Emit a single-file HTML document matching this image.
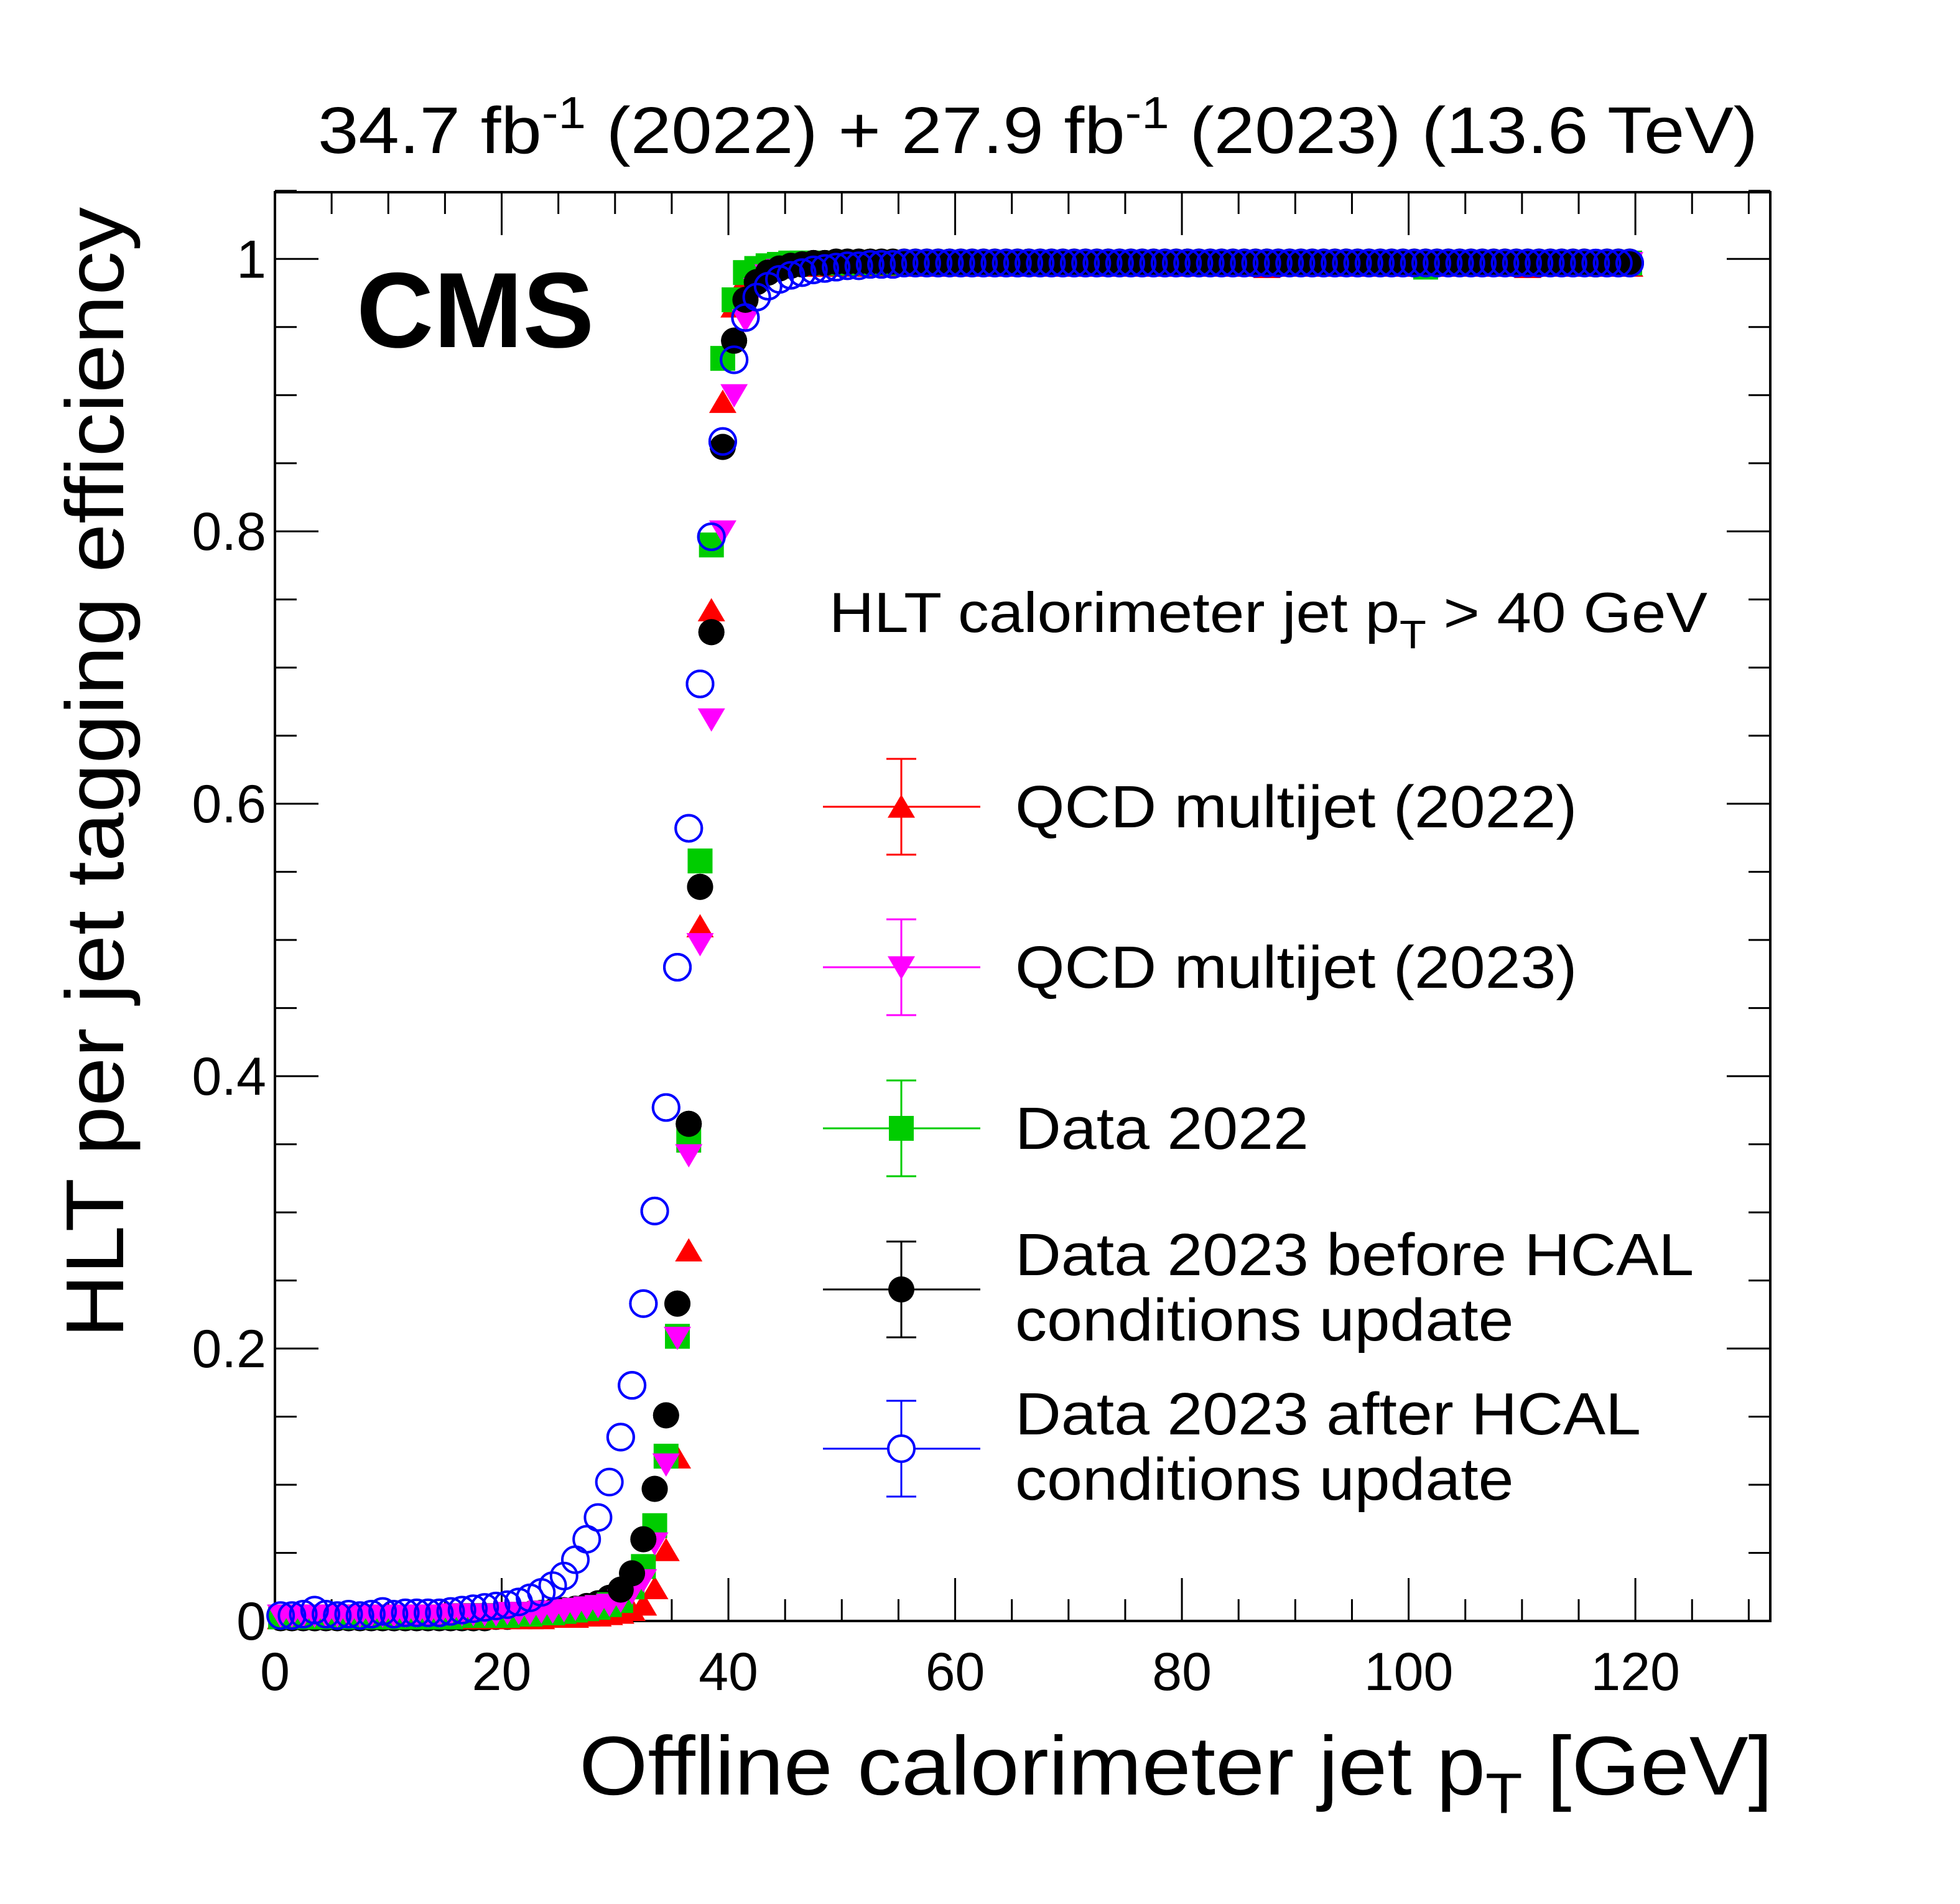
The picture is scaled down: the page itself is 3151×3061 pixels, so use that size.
<!DOCTYPE html>
<html><head><meta charset="utf-8"><style>
html,body{margin:0;padding:0;background:#fff;}
svg{display:block;font-family:"Liberation Sans",Arial,sans-serif;}
</style></head><body>
<svg id="chart" width="3151" height="3061" viewBox="0 0 3151 3061" xmlns="http://www.w3.org/2000/svg">
<rect x="0" y="0" width="3151" height="3061" fill="#fff"/>
<g id="axes"></g>
<g id="marks"></g>
<text id="lumi" x="2826" y="246" font-size="106" text-anchor="end">34.7 fb<tspan dy="-40" font-size="72">-1</tspan><tspan dy="40"> (2022) + 27.9 fb</tspan><tspan dy="-40" font-size="72">-1</tspan><tspan dy="40"> (2023) (13.6 TeV)</tspan></text>
<text x="573" y="558" font-size="172" font-weight="bold">CMS</text>
<text id="ytitle" transform="translate(198,333) rotate(-90)" font-size="132" text-anchor="end">HLT per jet tagging efficiency</text>
<text id="xtitle" x="2850" y="2885" font-size="134" text-anchor="end">Offline calorimeter jet p<tspan dy="30" font-size="92">T</tspan><tspan dy="-30"> [GeV]</tspan></text>
<g id="legend">
<text id="leghead" x="1333" y="1016" font-size="91">HLT calorimeter jet p<tspan dy="26" font-size="64">T</tspan><tspan dy="-26"> &gt; 40 GeV</tspan></text>
</g>
</svg>
<script>
const xTicks = [0, 20, 40, 60, 80, 100, 120];
const yTicks = [0, 0.2, 0.4, 0.6, 0.8, 1];
const yTickLabels = ["0", "0.2", "0.4", "0.6", "0.8", "1"];
const ptCenters = [];
for (let n = 0; n < 120; n++) ptCenters.push(n + 0.5);
const effQCD2022 = [0.002,0.002,0.002,0.002,0.002,0.002,0.002,0.002,0.002,0.002,0.002,0.002,0.002,0.002,0.002,0.002,0.002,0.002,0.002,0.002,0.002,0.002,0.002,0.002,0.003,0.003,0.003,0.004,0.004,0.005,0.006,0.008,0.012,0.024,0.052,0.120,0.272,0.510,0.742,0.895,0.965,0.985,0.991,0.993,0.994,0.995,0.995,0.995,0.995,0.995,0.995,0.995,0.995,0.995,0.995,0.995,0.995,0.995,0.995,0.995,0.995,0.995,0.995,0.995,0.995,0.995,0.995,0.995,0.995,0.995,0.995,0.995,0.995,0.995,0.995,0.995,0.995,0.995,0.995,0.995,0.995,0.995,0.995,0.995,0.995,0.995,0.995,0.994,0.995,0.995,0.995,0.995,0.995,0.995,0.995,0.995,0.995,0.995,0.995,0.995,0.995,0.995,0.995,0.995,0.995,0.995,0.995,0.995,0.995,0.995,0.994,0.995,0.995,0.995,0.995,0.995,0.995,0.995,0.995,0.995];
const effQCD2023 = [0.004,0.004,0.004,0.004,0.004,0.004,0.004,0.004,0.004,0.004,0.004,0.004,0.004,0.004,0.004,0.005,0.005,0.005,0.005,0.005,0.006,0.006,0.006,0.007,0.007,0.008,0.009,0.010,0.011,0.012,0.015,0.021,0.030,0.057,0.115,0.208,0.342,0.497,0.662,0.800,0.900,0.955,0.978,0.988,0.992,0.994,0.995,0.996,0.996,0.997,0.997,0.997,0.997,0.997,0.997,0.997,0.997,0.997,0.997,0.997,0.997,0.997,0.997,0.997,0.997,0.997,0.997,0.997,0.997,0.997,0.997,0.997,0.997,0.997,0.997,0.997,0.997,0.997,0.997,0.997,0.997,0.997,0.997,0.997,0.997,0.997,0.997,0.997,0.997,0.997,0.997,0.997,0.997,0.997,0.997,0.997,0.997,0.997,0.997,0.997,0.997,0.997,0.997,0.997,0.997,0.997,0.997,0.997,0.997,0.997,0.997,0.997,0.997,0.997,0.997,0.997,0.997,0.997,0.997,0.997];
const effData2022 = [0.003,0.003,0.003,0.003,0.003,0.003,0.003,0.003,0.003,0.003,0.003,0.003,0.003,0.003,0.003,0.003,0.004,0.004,0.004,0.004,0.004,0.005,0.005,0.006,0.006,0.007,0.008,0.009,0.010,0.012,0.015,0.025,0.040,0.070,0.121,0.209,0.353,0.558,0.790,0.927,0.970,0.990,0.993,0.995,0.996,0.997,0.997,0.997,0.997,0.997,0.997,0.997,0.997,0.997,0.997,0.997,0.997,0.997,0.997,0.997,0.997,0.997,0.997,0.997,0.997,0.997,0.997,0.997,0.997,0.997,0.997,0.997,0.997,0.997,0.997,0.997,0.997,0.997,0.997,0.997,0.997,0.997,0.997,0.997,0.997,0.997,0.997,0.997,0.997,0.997,0.997,0.997,0.997,0.997,0.997,0.997,0.997,0.997,0.997,0.997,0.997,0.994,0.997,0.997,0.997,0.997,0.997,0.997,0.997,0.997,0.997,0.997,0.997,0.997,0.997,0.997,0.997,0.997,0.997,0.997];
const effData2023Before = [0.002,0.002,0.002,0.002,0.002,0.002,0.002,0.002,0.002,0.002,0.002,0.002,0.002,0.002,0.002,0.002,0.002,0.002,0.002,0.003,0.003,0.004,0.005,0.006,0.007,0.008,0.009,0.011,0.013,0.017,0.023,0.035,0.060,0.097,0.151,0.233,0.365,0.539,0.726,0.862,0.940,0.970,0.983,0.990,0.993,0.995,0.996,0.997,0.997,0.998,0.998,0.998,0.998,0.998,0.998,0.998,0.998,0.998,0.998,0.998,0.998,0.998,0.998,0.998,0.998,0.998,0.998,0.998,0.998,0.998,0.998,0.998,0.998,0.998,0.998,0.998,0.998,0.998,0.998,0.998,0.998,0.998,0.998,0.998,0.998,0.998,0.998,0.998,0.998,0.998,0.998,0.998,0.998,0.998,0.998,0.998,0.998,0.998,0.998,0.998,0.998,0.998,0.998,0.998,0.998,0.998,0.998,0.998,0.998,0.998,0.998,0.998,0.998,0.998,0.998,0.998,0.996,0.998,0.998,0.998];
const effData2023After = [0.004,0.004,0.005,0.008,0.005,0.004,0.005,0.004,0.005,0.007,0.005,0.006,0.006,0.006,0.006,0.007,0.008,0.009,0.010,0.011,0.012,0.014,0.017,0.021,0.026,0.033,0.045,0.060,0.076,0.102,0.135,0.173,0.233,0.301,0.377,0.480,0.582,0.688,0.796,0.866,0.926,0.957,0.972,0.980,0.985,0.988,0.990,0.992,0.993,0.994,0.995,0.995,0.996,0.996,0.996,0.997,0.997,0.997,0.997,0.997,0.997,0.997,0.997,0.997,0.997,0.997,0.997,0.997,0.997,0.997,0.997,0.997,0.997,0.997,0.997,0.997,0.997,0.997,0.997,0.997,0.997,0.997,0.997,0.997,0.997,0.997,0.997,0.997,0.997,0.997,0.997,0.997,0.997,0.997,0.997,0.997,0.997,0.997,0.997,0.997,0.997,0.997,0.997,0.997,0.997,0.997,0.997,0.997,0.997,0.997,0.997,0.997,0.997,0.997,0.997,0.997,0.997,0.997,0.997,0.997];
const legendLabels = [["QCD multijet (2022)"],["QCD multijet (2023)"],["Data 2022"],["Data 2023 before HCAL","conditions update"],["Data 2023 after HCAL","conditions update"]];

const NS = "http://www.w3.org/2000/svg";
const L = 442, R = 2846, T = 309, B = 2606;
const X_MIN = 0, X_MAX = 131.9, Y_MIN = 0, Y_MAX = 1.049;
function xs(v){ return L + (v - X_MIN) / (X_MAX - X_MIN) * (R - L); }
function ys(v){ return B - (v - Y_MIN) / (Y_MAX - Y_MIN) * (B - T); }
function mk(tag, attrs, parent){ const e = document.createElementNS(NS, tag); for (const k in attrs) e.setAttribute(k, attrs[k]); parent.appendChild(e); return e; }
function stretch(el, len){ el.setAttribute('textLength', len); el.setAttribute('lengthAdjust', 'spacingAndGlyphs'); }

const axes = document.getElementById('axes');
const frame = mk('rect', {x:L, y:T, width:R-L, height:B-T, fill:'none', stroke:'#000', 'stroke-width':4}, axes);


for (let v = 0; v <= 130; v += 5) {
  const major = v % 20 === 0; const len = major ? 69 : 35; const x = xs(v);
  const t1 = mk('line', {x1:x, y1:B, x2:x, y2:B-len, stroke:'#000', 'stroke-width':3}, axes);
  
  
  const t2 = mk('line', {x1:x, y1:T, x2:x, y2:T+len, stroke:'#000', 'stroke-width':3}, axes);
  
  
}
xTicks.forEach(v => {
  const t = mk('text', {x:xs(v), y:2717, 'font-size':86, 'text-anchor':'middle'}, axes);
  t.textContent = v;
  
  
});
for (let i = 0; i <= 21; i++) {
  const v = i * 0.05; const major = i % 4 === 0; const len = major ? 70 : 35; const y = ys(v);
  const t1 = mk('line', {x1:L, y1:y, x2:L+len, y2:y, stroke:'#000', 'stroke-width':3}, axes);
  
  
  const t2 = mk('line', {x1:R, y1:y, x2:R-len, y2:y, stroke:'#000', 'stroke-width':3}, axes);
  
  
}
yTicks.forEach((v, i) => {
  const t = mk('text', {x:428, y:ys(v)+30, 'font-size':86, 'text-anchor':'end'}, axes);
  t.textContent = yTickLabels[i];
  
  
});

function marker(type, cx, cy, color, parent){
  const s = 22; let e;
  if (type === 'up') e = mk('polygon', {points:`${cx-s},${cy+s*0.8} ${cx+s},${cy+s*0.8} ${cx},${cy-s*0.9}`, fill:color}, parent);
  else if (type === 'down') e = mk('polygon', {points:`${cx-s},${cy-s*0.8} ${cx+s},${cy-s*0.8} ${cx},${cy+s*0.9}`, fill:color}, parent);
  else if (type === 'square') e = mk('rect', {x:cx-20, y:cy-20, width:40, height:40, fill:color}, parent);
  else if (type === 'circle') e = mk('circle', {cx:cx, cy:cy, r:21, fill:color}, parent);
  else e = mk('circle', {cx:cx, cy:cy, r:21, fill:'none', stroke:color, 'stroke-width':4}, parent);
  return e;
}
const series = [
  {name:'data-2023-before', vals:effData2023Before, type:'circle', color:'#000000'},
  {name:'qcd-2022', vals:effQCD2022, type:'up', color:'#ff0000'},
  {name:'data-2022', vals:effData2022, type:'square', color:'#00cc00'},
  {name:'qcd-2023', vals:effQCD2023, type:'down', color:'#ff00ff'},
  {name:'data-2023-after', vals:effData2023After, type:'open', color:'#0000ff'}
];
const marks = document.getElementById('marks');
series.forEach(s => {
  const g = mk('g', {}, marks);
  
  
  s.vals.forEach((v, i) => {
    const m = marker(s.type, xs(ptCenters[i]), ys(v), s.color, g);
    
    
  });
});
// redraw black over others in the rise region (ptCenters >= 30)
const gTop = mk('g', {}, marks);


effData2023Before.forEach((v, i) => {
  if (ptCenters[i] >= 30) {
    const m = marker('circle', xs(ptCenters[i]), ys(v), '#000000', gTop);
    
    
  }
});
const gBlue = mk('g', {}, marks);


effData2023After.forEach((v, i) => {
  if (ptCenters[i] >= 30) {
    const m = marker('open', xs(ptCenters[i]), ys(v), '#0000ff', gBlue);
    
    
  }
});

const legend = document.getElementById('legend');
const legOrder = [
  {type:'up', color:'#ff0000', cy:1297},
  {type:'down', color:'#ff00ff', cy:1555},
  {type:'square', color:'#00cc00', cy:1814},
  {type:'circle', color:'#000000', cy:2073},
  {type:'open', color:'#0000ff', cy:2329}
];
legOrder.forEach((o, i) => {
  const g = mk('g', {}, legend);
  
  
  mk('line', {x1:1323, y1:o.cy, x2:1576, y2:o.cy, stroke:o.color, 'stroke-width':3}, g);
  mk('line', {x1:1449, y1:o.cy-77, x2:1449, y2:o.cy+77, stroke:o.color, 'stroke-width':3}, g);
  mk('line', {x1:1425, y1:o.cy-77, x2:1473, y2:o.cy-77, stroke:o.color, 'stroke-width':3}, g);
  mk('line', {x1:1425, y1:o.cy+77, x2:1473, y2:o.cy+77, stroke:o.color, 'stroke-width':3}, g);
  if (o.type === 'open') mk('circle', {cx:1449, cy:o.cy, r:21, fill:'#fff', stroke:o.color, 'stroke-width':4}, g);
  else marker(o.type, 1449, o.cy, o.color, g);
  const lines = legendLabels[i];
  lines.forEach((txt, j) => {
    const y = lines.length === 1 ? o.cy + 33 : o.cy - 23 + j * 105;
    const t = mk('text', {x:1632, y:y, 'font-size':96}, g);
    t.textContent = txt;
    
    
    stretch(t, t.getComputedTextLength() * 1.065);
  });
});
stretch(document.getElementById('lumi'), 2315);
stretch(document.getElementById('ytitle'), 1818);
stretch(document.getElementById('xtitle'), 1919);
stretch(document.getElementById('leghead'), 1412);
</script>
</body></html>
